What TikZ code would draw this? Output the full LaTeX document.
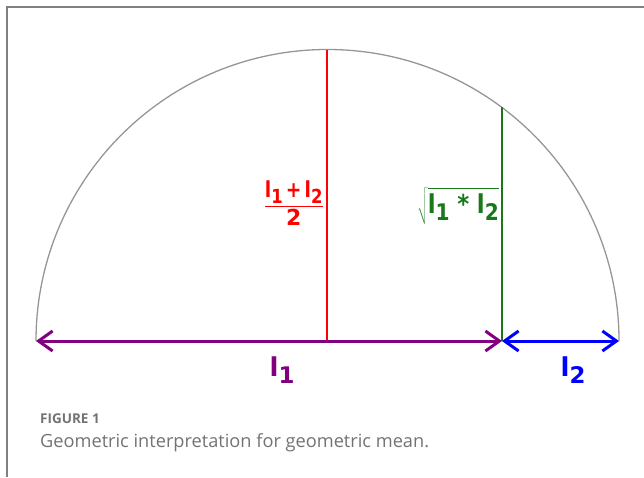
\documentclass[tikz,border=0pt]{standalone}
\usepackage{fontspec}
\setmainfont{DejaVu Sans}
\newfontfamily\capfont{Open Sans}
\usetikzlibrary{arrows.meta}
\definecolor{arcgray}{RGB}{150,150,150}
\definecolor{lpurple}{RGB}{128,0,128}
\definecolor{lgreen}{RGB}{25,120,25}
\definecolor{lblue}{RGB}{0,0,255}
\definecolor{capgray}{RGB}{115,115,115}
\newcommand{\ls}[1]{\raisebox{-0.27em}{\scalebox{0.88}{#1}}}

\begin{document}
\begin{tikzpicture}[x=1pt,y=-1pt]
    \tikzstyle{len}=[line width=3pt, {Straight Barb[length=14pt,width=20pt]}-{Straight Barb[length=14pt,width=20pt]}]
    \tikzstyle{lab}=[inner sep=0pt, font=\bfseries\fontsize{26}{30}\selectfont]
    \tikzstyle{captext}=[inner sep=0pt, anchor=base west, text=capgray]
    \useasboundingbox (0,0) rectangle (644,477);
    % frame
    \draw[line width=1.2pt, gray] (7,477) -- (7,7) -- (644,7);
    % points on the diameter
    \coordinate (A) at (36,341);
    \coordinate (M) at (327,341);
    \coordinate (P) at (502,341);
    \coordinate (B) at (619,341);
    \coordinate (T) at (327,49.5);
    \coordinate (Q) at (502,107);
    % half circle
    \draw[arcgray, line width=1.3pt] (B) arc[start angle=0, end angle=-180, radius=291.5];
    % means
    \draw[color=red, line width=1.2pt] (T) -- (M);
    \draw[lgreen, line width=1.5pt] (P) -- (Q);
    \draw[len, lpurple] (A) -- (P);
    \draw[len, lblue] (P) -- (B);
    % labels
    \node[lab, text=lpurple] (l1) at (282,370) {l\ls{1}};
    \node[lab, text=lblue] (l2) at (573,370) {l\ls{2}};
    \node[lab, text=red, anchor=east, font=\bfseries\fontsize{22}{26}\selectfont] (am) at (324,203)
      {$\displaystyle\frac{\mbox{\scalebox{0.85}[1]{l\ls{1}\,+\,l\ls{2}}}}{\mbox{2}}$};
    \node[lab, text=lgreen, anchor=base east] (gm) at (499,213)
      {$\sqrt{\mbox{\rule[-9pt]{0pt}{31pt}\scalebox{0.88}[1]{l\ls{1}\,\,*\,\,l\ls{2}}}}$};
    % caption
    \node[captext, font=\capfont\bfseries\fontsize{13.5}{16}\selectfont] (fig) at (40,423) {FIGURE 1};
    \node[captext, font=\capfont\fontsize{18.2}{22}\selectfont] (txt) at (40,447) {Geometric interpretation for geometric mean.};
\end{tikzpicture}
\end{document}
